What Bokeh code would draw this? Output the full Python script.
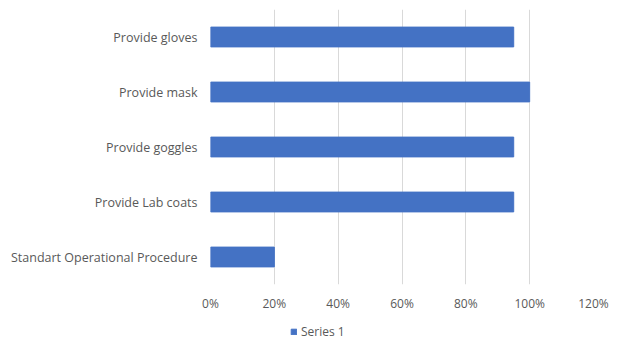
from bokeh.plotting import figure
from bokeh.layouts import column
from bokeh.models import FixedTicker, NumeralTickFormatter, Legend, LegendItem, ColumnDataSource
from bokeh.embed import file_html
from bokeh.resources import INLINE

categories = ["Standart Operational Procedure", "Provide Lab coats", "Provide goggles", "Provide mask", "Provide gloves"]
values = [0.20, 0.95, 0.95, 1.00, 0.95]
x_ticks = [0, 0.2, 0.4, 0.6, 0.8, 1.0, 1.2]
series_name = "Series 1"

FONT = "Open Sans"
GRAY = "#595959"
BLUE = "#4472C4"

src = ColumnDataSource(data=dict(cat=categories, val=values))

p = figure(width=618, height=320, y_range=categories, x_range=(0, 1.2),
           output_backend="svg", toolbar_location=None,
           min_border_left=210, min_border_right=25, min_border_top=9, min_border_bottom=36)

r = p.hbar(y="cat", right="val", left=0, height=0.36, source=src, color=BLUE)

p.outline_line_color = None
p.background_fill_color = "white"
p.border_fill_color = "white"

p.ygrid.grid_line_color = None
p.xgrid.grid_line_color = "#d9d9d9"
p.xgrid.grid_line_width = 1
p.xgrid.ticker = FixedTicker(ticks=x_ticks)

p.xaxis.ticker = FixedTicker(ticks=x_ticks)
p.xaxis.formatter = NumeralTickFormatter(format="0%")
p.xaxis.axis_line_color = None
p.xaxis.major_tick_line_color = None
p.xaxis.minor_tick_line_color = None
p.xaxis.major_label_text_font = FONT
p.xaxis.major_label_text_font_size = "12px"
p.xaxis.major_label_text_color = GRAY
p.xaxis.major_label_standoff = 4

p.yaxis.axis_line_color = None
p.yaxis.major_tick_line_color = None
p.yaxis.minor_tick_line_color = None
p.yaxis.major_label_text_font = FONT
p.yaxis.major_label_text_font_size = "12.5px"
p.yaxis.major_label_text_color = GRAY
p.yaxis.major_label_standoff = 7

# legend strip (a hidden proxy bar supplies the legend swatch)
pl = figure(width=618, height=20, x_range=(0, 1), y_range=(0, 1),
            output_backend="svg", toolbar_location=None,
            min_border=0, min_border_left=0, min_border_right=0, min_border_top=0, min_border_bottom=0)
pl.xaxis.visible = False
pl.yaxis.visible = False
pl.xgrid.visible = False
pl.ygrid.visible = False
pl.outline_line_color = None
pl.background_fill_color = "white"
pl.border_fill_color = "white"
lr = pl.hbar(y=[-10], right=[0], left=[0], height=0.1, color=BLUE)

legend = Legend(items=[LegendItem(label=series_name, renderers=[lr])],
                location=(80, 0), orientation="horizontal",
                label_text_font=FONT, label_text_font_size="12px", label_text_color=GRAY,
                glyph_width=7, glyph_height=7, label_standoff=4, label_height=12,
                padding=0, margin=0, spacing=0,
                border_line_color=None, background_fill_alpha=0)
pl.add_layout(legend, "center")

open("out.html", "w").write(file_html(column(p, pl, spacing=0), INLINE))
